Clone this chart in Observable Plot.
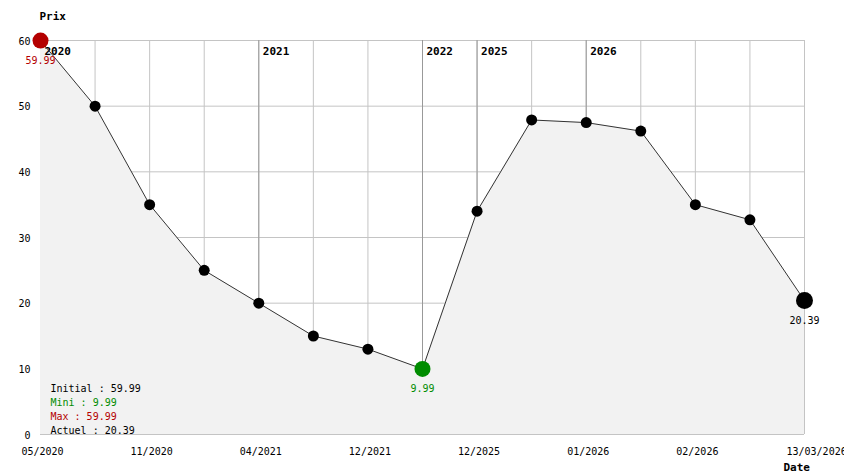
<!DOCTYPE html>
<html>
<head>
<meta charset="utf-8">
<script src="https://cdn.jsdelivr.net/npm/d3@7"></script>
<script src="https://cdn.jsdelivr.net/npm/@observablehq/plot@0.6"></script>
<style>
  html, body { margin: 0; padding: 0; background: #fff; }
  svg { display: block; }
</style>
</head>
<body>
<div id="chart"></div>
<script>
// ---- data ----
const pointIndex = [0, 1, 2, 3, 4, 5, 6, 7, 8, 9, 10, 11, 12, 13, 14];
const prices = [59.99, 50, 35, 25, 20, 15, 13, 9.99, 34, 47.9, 47.5, 46.2, 35, 32.7, 20.39];
const tickIndex = [0, 2, 4, 6, 8, 10, 12, 14];
const tickLabels = ["05/2020", "11/2020", "04/2021", "12/2021", "12/2025", "01/2026", "02/2026", "13/03/2026"];
const yearIndex = [0, 4, 7, 8, 10];
const yearLabels = ["2020", "2021", "2022", "2025", "2026"];
const yTicks = [0, 10, 20, 30, 40, 50, 60];
const summaryLabels = ["Initial", "Mini", "Max", "Actuel"];

// ---- derived ----
const data = pointIndex.map((i, k) => ({i, v: prices[k]}));
const minV = d3.min(prices), maxV = d3.max(prices);
const first = data[0], last = data[data.length - 1];
const minPt = data.find(d => d.v === minV);
const maxPt = data.find(d => d.v === maxV);
const summaryValues = [first.v, minV, maxV, last.v];
const RED = "#b40000", GREEN = "#008c00";
const summaryColors = ["#000", GREEN, RED, "#000"];
const ticks = tickIndex.map((i, k) => ({i, label: tickLabels[k]}));
const years = yearIndex.map((i, k) => ({i, label: yearLabels[k]}));
const normalPts = data.filter(d => d !== minPt && d !== maxPt && d !== last);
const fmt = v => v.toFixed(2).replace(/\.?0+$/, "");

const mono = "DejaVu Sans Mono, Liberation Mono, monospace";

const summaryMarks = summaryLabels.map((l, k) =>
  Plot.text([`${l} : ${summaryValues[k]}`], {
    fill: summaryColors[k], frameAnchor: "bottom-left", textAnchor: "start",
    lineAnchor: "bottom", dx: 10, dy: (k - 3) * 14 - 1
  })
);

const chart = Plot.plot({
  width: 844,
  height: 474,
  marginLeft: 40,
  marginRight: 40,
  marginTop: 40,
  marginBottom: 40,
  style: {fontFamily: mono, fontSize: "10px", background: "#fff", color: "#000"},
  x: {type: "linear", domain: [0, 14], axis: null},
  y: {domain: [0, 60], axis: null},
  marks: [
    Plot.gridY(yTicks, {stroke: "#c4c4c4", strokeOpacity: 1}),
    Plot.gridX(pointIndex, {stroke: "#c4c4c4", strokeOpacity: 1}),
    Plot.ruleX(yearIndex, {stroke: "#999", strokeWidth: 1}),
    Plot.areaY(data, {x: "i", y: "v", fill: "#f2f2f2"}),
    // year labels
    Plot.text(years, {x: "i", text: "label", frameAnchor: "top", textAnchor: "start", lineAnchor: "top", dx: 4, dy: 7, fontWeight: "bold", fontSize: 11}),
    Plot.line(data, {x: "i", y: "v", stroke: "#333", strokeWidth: 1}),
    Plot.dot(normalPts, {x: "i", y: "v", r: 5.5, fill: "#000"}),
    Plot.dot([last], {x: "i", y: "v", r: 8.5, fill: "#000"}),
    Plot.dot([minPt], {x: "i", y: "v", r: 8, fill: GREEN}),
    Plot.dot([maxPt], {x: "i", y: "v", r: 8, fill: RED}),
    // value labels
    Plot.text([maxPt], {x: "i", y: "v", text: d => fmt(d.v), fill: RED, lineAnchor: "top", dy: 16}),
    Plot.text([minPt], {x: "i", y: "v", text: d => fmt(d.v), fill: GREEN, lineAnchor: "top", dy: 16}),
    Plot.text([last], {x: "i", y: "v", text: d => fmt(d.v), fill: "#000", lineAnchor: "top", dy: 16}),
    // y tick labels
    Plot.text(yTicks, {y: d => d, text: d => String(d), frameAnchor: "left", textAnchor: "end", dx: -10, dy: 1}),
    // x tick labels
    Plot.text(ticks.slice(0, -1), {x: "i", text: "label", frameAnchor: "bottom", lineAnchor: "top", dy: 13, dx: 2}),
    Plot.text(ticks.slice(-1), {x: "i", text: "label", frameAnchor: "bottom", lineAnchor: "top", textAnchor: "start", dy: 13, dx: -18}),
    // axis titles
    Plot.text(["Prix"], {frameAnchor: "top-left", textAnchor: "start", lineAnchor: "bottom", dx: -1, dy: -21, fontWeight: "bold", fontSize: 11}),
    Plot.text(["Date"], {frameAnchor: "bottom-right", textAnchor: "start", lineAnchor: "bottom", dx: -21, dy: 36, fontWeight: "bold", fontSize: 11}),
    // summary legend
    ...summaryMarks
  ]
});
document.getElementById("chart").appendChild(chart);
</script>
</body>
</html>
